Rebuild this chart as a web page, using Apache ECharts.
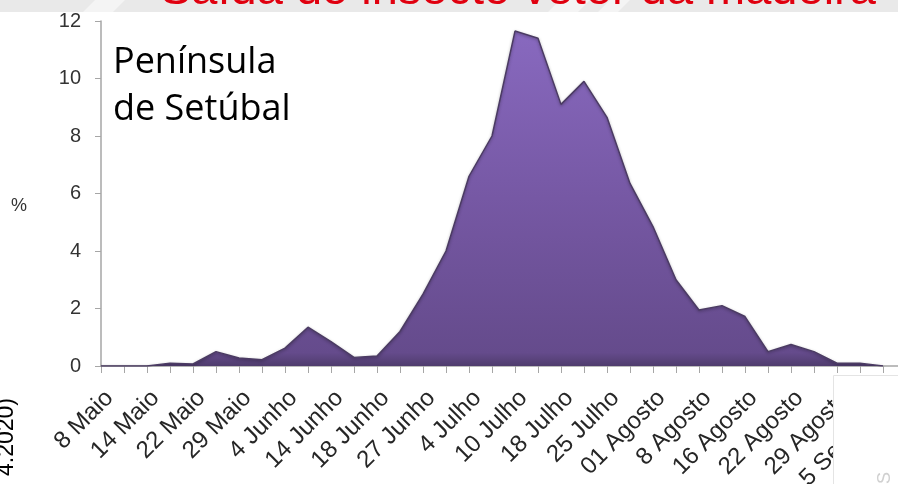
<!DOCTYPE html>
<html>
<head>
<meta charset="utf-8">
<script src="https://cdn.jsdelivr.net/npm/echarts@6/dist/echarts.min.js"></script>
<style>
  html, body { margin: 0; padding: 0; background: #ffffff; }
  #chart { width: 898px; height: 484px; }
</style>
</head>
<body>
<div id="chart"></div>
<script>
// Weekly share (%) of insect emergence, one value per tick; every other tick is labelled
const tickLabels = ['8 Maio', '14 Maio', '22 Maio', '29 Maio', '4 Junho', '14 Junho', '18 Junho',
  '27 Junho', '4 Julho', '10 Julho', '18 Julho', '25 Julho', '01 Agosto', '8 Agosto',
  '16 Agosto', '22 Agosto', '29 Agosto', '5 Setembro'];

const emergence = [0, 0, 0, 0.1, 0.07, 0.5, 0.28, 0.22, 0.62, 1.35, 0.85, 0.3, 0.35, 1.2,
  2.5, 4.0, 6.6, 8.0, 11.65, 11.4, 9.1, 9.9, 8.65, 6.35, 4.85, 3.0, 1.95, 2.1, 1.72,
  0.5, 0.75, 0.5, 0.1, 0.1, 0];

const yTicks = [0, 2, 4, 6, 8, 10, 12];

const titleText = 'Saída do insecto vetor da madeira';
const regionText = 'Península\nde Setúbal';
const sideNote = '4.2020)';

// Category axis: labelled ticks alternate with unlabelled ones, plus one spare slot past the edge
const categories = [];
for (let i = 0; i < emergence.length; i++) {
  categories.push(i % 2 === 0 ? tickLabels[i / 2] : '');
}
categories.push('');

const chart = echarts.init(document.getElementById('chart'), null, { renderer: 'canvas' });

const axisFont = 'Liberation Sans, Arial, sans-serif';

const option = {
  animation: false,
  backgroundColor: '#ffffff',
  grid: {
    left: 101, top: 21, bottom: 118, right: -8,
    containLabel: false, outerBoundsMode: 'none'
  },
  xAxis: {
    type: 'category',
    data: categories,
    boundaryGap: false,
    axisLine: { show: true, lineStyle: { color: '#a6a6a6', width: 1.5 } },
    axisTick: { show: true, interval: 0, length: 7, lineStyle: { color: '#a6a6a6', width: 1 } },
    axisLabel: {
      interval: 0, rotate: 45, margin: 20, verticalAlign: 'top',
      color: '#262626', fontSize: 24, fontFamily: axisFont
    },
    splitLine: { show: false }
  },
  yAxis: {
    type: 'value',
    min: yTicks[0], max: yTicks[yTicks.length - 1], interval: 2,
    axisLine: { show: true, lineStyle: { color: '#a6a6a6', width: 1.5 } },
    axisTick: { show: true, length: 6, lineStyle: { color: '#a6a6a6' } },
    axisLabel: { margin: 20, color: '#333333', fontSize: 20, fontFamily: axisFont },
    splitLine: { show: false }
  },
  series: [{
    type: 'line',
    data: emergence,
    symbol: 'none',
    smooth: false,
    z: 3,
    lineStyle: {
      color: '#4b3b63', width: 1.5,
      shadowColor: 'rgba(0,0,0,0.35)', shadowBlur: 3, shadowOffsetY: 1
    },
    areaStyle: {
      opacity: 1,
      color: new echarts.graphic.LinearGradient(0, 0, 0, 1, [
        { offset: 0, color: '#8869bf' },
        { offset: 0.5, color: '#7658a4' },
        { offset: 0.96, color: '#654b8c' },
        { offset: 1, color: '#4f3c6d' }
      ])
    }
  }],
  graphic: [
    // grey banner strip behind the heading
    { type: 'rect', left: 0, top: 0, z: 1, shape: { width: 898, height: 12 }, style: { fill: '#e9e9e9' } },
    { type: 'polygon', z: 1, shape: { points: [[95, 0], [125, 0], [113, 12], [83, 12]] }, style: { fill: '#f4f4f4' } },
    { type: 'polygon', z: 1, shape: { points: [[560, 0], [590, 0], [578, 12], [548, 12]] }, style: { fill: '#f4f4f4' } },
    { type: 'polygon', z: 1, shape: { points: [[610, 0], [630, 0], [618, 12], [598, 12]] }, style: { fill: '#f4f4f4' } },
    {
      type: 'text', z: 2, left: 160, top: -32,
      style: { text: titleText, fill: '#e0000f', font: '47px "Liberation Sans", Arial, sans-serif' }
    },
    {
      type: 'text', z: 5, left: 113, top: 39,
      style: { text: regionText, fill: '#000000', font: '36px "Open Sans", sans-serif', lineHeight: 47 }
    },
    {
      type: 'text', z: 5, left: 11, top: 197,
      style: { text: '%', fill: '#333333', font: '18px "Liberation Sans", Arial, sans-serif' }
    },
    {
      type: 'text', z: 5, x: 18, y: 398, rotation: Math.PI / 2,
      style: {
        text: sideNote, fill: '#000000', font: '23px "Liberation Sans", Arial, sans-serif',
        align: 'right', verticalAlign: 'bottom'
      }
    },
    // panel overlapping the lower-right corner
    {
      type: 'rect', z: 10, left: 833, top: 375,
      shape: { x: 0, y: 0, width: 80, height: 120 },
      style: { fill: '#ffffff', stroke: '#e4e4e4', lineWidth: 1 }
    },
    {
      type: 'text', z: 11, x: 876, y: 484, rotation: Math.PI / 2,
      style: { text: 'S', fill: '#d0d0d0', font: '18px "Liberation Sans", Arial, sans-serif', verticalAlign: 'top' }
    }
  ]
};

chart.setOption(option);
</script>
</body>
</html>
